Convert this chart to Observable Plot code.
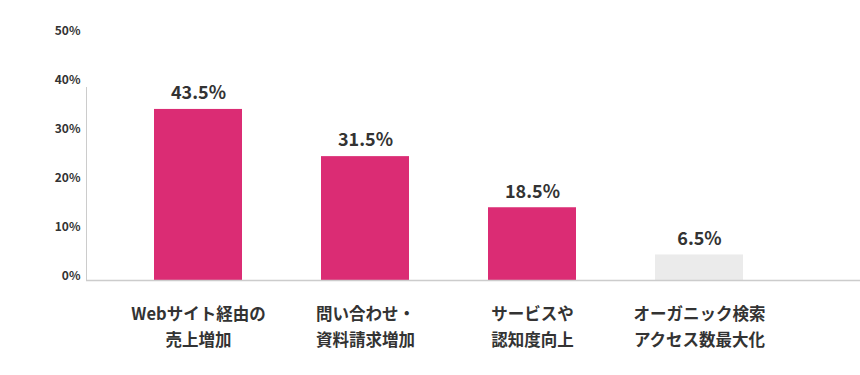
<!DOCTYPE html>
<html>
<head>
<meta charset="utf-8">
<script src="https://cdn.jsdelivr.net/npm/d3@7"></script>
<script src="https://cdn.jsdelivr.net/npm/@observablehq/plot@0.6"></script>
<style>
  html, body { margin: 0; padding: 0; background: #fff; }
  #chart svg { display: block; }
</style>
</head>
<body>
<div id="chart"></div>
<script>
// ---- data ----
const categories = [
  "Webサイト経由の\n売上増加",
  "問い合わせ・\n資料請求増加",
  "サービスや\n認知度向上",
  "オーガニック検索\nアクセス数最大化"
];
const values = [43.5, 31.5, 18.5, 6.5];
const yTickLabels = [0, 10, 20, 30, 40, 50];

// ---- styles / layout ----
const pink = "#DB2C74";
const gray = "#EBEBEB";
const textColor = "#333333";
const font = "'Noto Sans CJK JP', 'Noto Sans', sans-serif";
const barScaleMax = 62.3;            // bar units at the top of the plot frame
const axisLabelMax = 50;             // axis label at the top of the plot frame

const data = categories.map((c, i) => ({category: c, value: values[i], muted: i === categories.length - 1}));

const chart = Plot.plot({
  width: 860,
  height: 375,
  marginTop: 35,
  marginBottom: 95,
  marginLeft: 86,
  marginRight: 0,
  style: {fontFamily: font, color: textColor, background: "#fff"},
  x: {domain: categories, range: [75, 822], paddingInner: 0.473, paddingOuter: 0.473, axis: null},
  y: {domain: [0, barScaleMax], axis: null},
  marks: [
    Plot.barY(data, {x: "category", y: "value", fill: d => d.muted ? gray : pink}),
    Plot.axisY(yTickLabels.map(t => t / axisLabelMax * barScaleMax), {
      tickSize: 0,
      tickPadding: 6,
      tickFormat: (d, i) => yTickLabels[i] + "%",
      fontSize: 12,
      fontWeight: "bold",
      fill: textColor,
      dy: -4,
      label: null
    }),
    Plot.frame({anchor: "left", stroke: "#cccccc", insetTop: 52}),
    Plot.ruleY([0], {stroke: "#cccccc", strokeWidth: 1.5}),
    Plot.text(data, {
      x: "category", y: "value", text: d => d.value.toFixed(1) + "%",
      dy: -16, fontSize: 18, fontWeight: "bold", fill: textColor
    }),
    Plot.text(data, {
      x: "category", text: "category", frameAnchor: "bottom", lineAnchor: "top",
      dy: 21, fontSize: 16.5, fontWeight: "bold", lineHeight: 1.58, fill: textColor
    })
  ]
});
document.getElementById("chart").append(chart);
</script>
</body>
</html>
